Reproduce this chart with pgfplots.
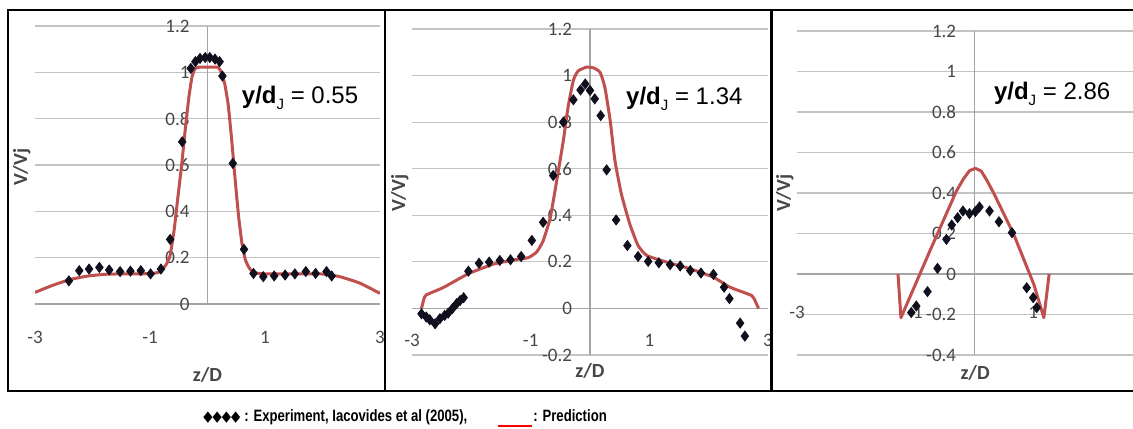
\documentclass[border=0pt]{standalone}
\usepackage{pgfplots}
\pgfplotsset{compat=1.18}
\usepackage{fontspec}
\setmainfont{Carlito}
\newfontfamily\arialfont{Liberation Sans}
\newfontfamily\capfont[FakeStretch=0.8]{Liberation Sans}
\newfontfamily\symfont[FakeStretch=0.8]{DejaVu Sans}

\definecolor{predred}{RGB}{192,80,77}
\definecolor{gridgray}{RGB}{195,195,195}
\definecolor{axisgray}{RGB}{165,165,165}
\definecolor{labelgray}{RGB}{70,70,70}
\definecolor{exptblk}{RGB}{15,15,30}

\pgfplotsset{
  panel/.style={
    scale only axis,
    anchor=south west,
    clip mode=individual,
    axis lines=middle,
    axis line style={draw=axisgray, line width=0.6pt, -},
    ymajorgrids,
    grid style={draw=gridgray, line width=0.6pt},
    major tick length=0pt,
    hide obscured x ticks=false,
    hide obscured y ticks=false,
    xmin=-3,
    xtick={-3,-1,1,3},
    xticklabels={-3,-1,1,3},
    tick label style={font=\fontsize{9.5}{10}\selectfont, text=labelgray},
    yticklabel style={anchor=east, xshift=-5.5pt},
  },
  pred/.style={predred, line width=1.5pt, line join=round, no markers},
  expt/.style={only marks, mark=diamond*, mark size=2.5pt, color=exptblk},
}
\tikzset{
  ttl/.style={font=\bfseries\fontsize{10}{12}\selectfont, text=labelgray},
  ann/.style={font=\arialfont\fontsize{12}{14}\selectfont},
}
\newcommand{\ydj}[1]{\textbf{y/d}\raisebox{-0.45ex}{\fontsize{7.5}{8}\selectfont J} = #1}

\begin{document}
\begin{tikzpicture}
\useasboundingbox (0,0) rectangle (566.5pt,214pt);

% ---------- panel 1 : y/dJ = 0.55
\begin{axis}[panel,
  at={(17.5pt,62pt)}, width=172.5pt, height=139pt,
  xmax=3, ymin=0, ymax=1.2,
  ytick={0,0.2,0.4,0.6,0.8,1,1.2},
  yticklabels={0,0.2,0.4,0.6,0.8,1,1.2},
  xticklabel style={anchor=center, yshift=-16.5pt},
]
\addplot[pred, smooth, tension=0.3] coordinates {
  (-3,0.05) (-2.7,0.08) (-2.4,0.105) (-2.1,0.12) (-1.8,0.128) (-1.5,0.13)
  (-1.2,0.13) (-0.95,0.132) (-0.82,0.14) (-0.72,0.17) (-0.65,0.21) (-0.58,0.32)
  (-0.52,0.45) (-0.45,0.6) (-0.38,0.77) (-0.32,0.9) (-0.27,0.98) (-0.22,1.015)
  (-0.15,1.022) (0,1.022) (0.18,1.022) (0.24,1.0) (0.30,0.95) (0.36,0.86)
  (0.42,0.71) (0.48,0.54) (0.54,0.38) (0.60,0.26) (0.66,0.19) (0.74,0.15)
  (0.85,0.134) (1.0,0.13) (1.5,0.13) (1.96,0.13) (2.3,0.118) (2.65,0.09) (3.0,0.046)
};
\addplot[expt] coordinates {
  (-2.41,0.10) (-2.23,0.144) (-2.06,0.151) (-1.88,0.158) (-1.71,0.147)
  (-1.52,0.14) (-1.34,0.142) (-1.16,0.144) (-0.99,0.13) (-0.81,0.151)
  (-0.65,0.279) (-0.44,0.70) (-0.29,1.017) (-0.21,1.046) (-0.13,1.06)
  (-0.04,1.064) (0.04,1.064) (0.13,1.057) (0.21,1.046) (0.26,0.984)
  (0.44,0.607) (0.635,0.236) (0.80,0.132) (0.97,0.118) (1.16,0.121)
  (1.35,0.125) (1.52,0.13) (1.71,0.14) (1.88,0.132) (2.07,0.14) (2.16,0.121)
};
\node[ann] at (axis cs:1.61,0.89) {\ydj{0.55}};
\node[ttl] at (axis description cs:0.5,-0.255) {z/D};
\node[ttl, rotate=90] at (axis description cs:-0.038,0.493) {V/Vj};
\end{axis}

% ---------- panel 2 : y/dJ = 1.34
\begin{axis}[panel,
  at={(206pt,36.5pt)}, width=178pt, height=163pt,
  xmax=3, ymin=-0.2, ymax=1.2,
  ytick={-0.2,0,0.2,0.4,0.6,0.8,1,1.2},
  yticklabels={-0.2,0,0.2,0.4,0.6,0.8,1,1.2},
  xticklabel style={anchor=center, yshift=-16pt},
]
\addplot[pred, smooth, tension=0.3] coordinates {
  (-2.84,0) (-2.80,0.04) (-2.76,0.058) (-2.47,0.09) (-2.05,0.149) (-1.63,0.19)
  (-1.24,0.21) (-1.04,0.218) (-0.90,0.242) (-0.79,0.29) (-0.67,0.39) (-0.56,0.55)
  (-0.45,0.72) (-0.37,0.864) (-0.28,0.98) (-0.20,1.02) (-0.06,1.036) (0.06,1.033)
  (0.17,1.014) (0.25,0.95) (0.34,0.807) (0.42,0.635) (0.53,0.49) (0.67,0.363)
  (0.81,0.27) (0.96,0.227) (1.29,0.199) (1.69,0.17) (2.08,0.134) (2.36,0.091)
  (2.72,0.056) (2.78,0.034) (2.84,0)
};
\addplot[expt] coordinates {
  (-2.84,-0.023) (-2.76,-0.037) (-2.70,-0.049) (-2.61,-0.066) (-2.53,-0.044)
  (-2.45,-0.03) (-2.39,-0.02) (-2.32,-0.001) (-2.25,0.02) (-2.19,0.034)
  (-2.13,0.046) (-2.05,0.16) (-1.87,0.194) (-1.70,0.199) (-1.52,0.206)
  (-1.34,0.209) (-1.16,0.223) (-0.98,0.292) (-0.79,0.37) (-0.62,0.571)
  (-0.45,0.80) (-0.28,0.896) (-0.16,0.938) (-0.08,0.964) (0.0,0.936)
  (0.08,0.90) (0.18,0.828) (0.28,0.595) (0.44,0.38) (0.63,0.27)
  (0.81,0.223) (0.98,0.202) (1.16,0.196) (1.35,0.188) (1.52,0.182)
  (1.69,0.163) (1.87,0.152) (2.08,0.146) (2.26,0.091) (2.35,0.042)
  (2.53,-0.063) (2.61,-0.119)
};
\node[ann] at (axis cs:1.59,0.90) {\ydj{1.34}};
\node[ttl] at (axis description cs:0.5,-0.049) {z/D};
\node[ttl, rotate=90] at (axis description cs:-0.034,0.497) {V/Vj};
\end{axis}

% ---------- panel 3 : y/dJ = 2.86
\begin{axis}[panel,
  at={(398.5pt,36.5pt)}, width=168pt, height=162pt,
  xmax=2.69, ymin=-0.4, ymax=1.2,
  ytick={-0.4,-0.2,0,0.2,0.4,0.6,0.8,1,1.2},
  yticklabels={-0.4,-0.2,0,0.2,0.4,0.6,0.8,1,1.2},
  xticklabel style={anchor=center, yshift=-19pt},
]
\addplot[pred] coordinates {
  (-1.29,0) (-1.24,-0.216) (-0.75,0.114) (-0.30,0.41) (-0.18,0.47) (-0.08,0.51)
  (0.02,0.522) (0.12,0.508) (0.22,0.46) (0.33,0.40) (0.67,0.196) (1.01,-0.051)
  (1.18,-0.216) (1.27,0)
};
\addplot[expt] coordinates {
  (-1.065,-0.19) (-0.98,-0.158) (-0.79,-0.087) (-0.62,0.028) (-0.47,0.171)
  (-0.38,0.242) (-0.28,0.278) (-0.19,0.311) (-0.08,0.298) (0.02,0.308)
  (0.09,0.331) (0.26,0.311) (0.42,0.258) (0.64,0.204) (0.89,-0.068)
  (1.0,-0.117) (1.06,-0.166)
};
\node[ann] at (axis cs:1.32,0.89) {\ydj{2.86}};
\node[ttl] at (axis description cs:0.53,-0.056) {z/D};
\node[ttl, rotate=90] at (axis description cs:-0.036,0.5) {V/Vj};
\end{axis}

% ---------- panel frames
\draw[black, line width=1.25pt] (566.5pt,209pt) -- (4pt,209pt) -- (4pt,18.5pt) -- (566.5pt,18.5pt);
\draw[black, line width=1.25pt] (192.5pt,209pt) -- (192.5pt,18.5pt);
\draw[black, line width=1.25pt] (385.75pt,209pt) -- (385.75pt,18.5pt);

% ---------- key line
\node[anchor=base west, inner sep=0pt] at (101.5pt,3.5pt)
  {\symfont\fontsize{7.5}{8}\selectfont ◆◆◆◆};
\node[anchor=base west, inner sep=0pt] at (122pt,3.5pt)
  {\capfont\bfseries\fontsize{8.2}{9}\selectfont : Experiment, Iacovides et al (2005),};
\draw[red, line width=1pt] (249pt,1.2pt) -- (266pt,1.2pt);
\node[anchor=base west, inner sep=0pt] at (266.5pt,3.5pt)
  {\capfont\bfseries\fontsize{8.2}{9}\selectfont : Prediction};
\end{tikzpicture}
\end{document}
